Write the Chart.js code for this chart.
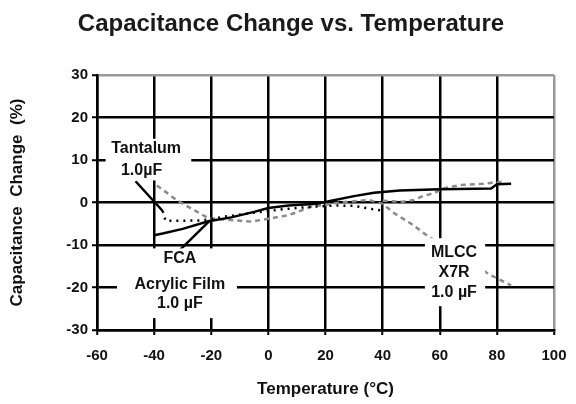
<!DOCTYPE html>
<html>
<head>
<meta charset="utf-8">
<script src="https://cdn.jsdelivr.net/npm/chart.js@4.4.1/dist/chart.umd.min.js"></script>
<style>
  html, body { margin: 0; padding: 0; background: #fff; }
  #wrap { width: 576px; height: 404px; }
</style>
</head>
<body>
<div id="wrap"><canvas id="c" width="576" height="404"></canvas></div>
<script>
// ---- data ----
const chartTitle = 'Capacitance Change vs. Temperature';
const xTicks = [-60, -40, -20, 0, 20, 40, 60, 80, 100];
const yTicks = [-30, -20, -10, 0, 10, 20, 30];

const fcaTemp  = [-40, -37, -30, -21, -13, -5, 0, 7, 17, 22, 30, 37, 46, 60, 78, 80, 85];
const fcaValue = [-7.7, -7.3, -6.2, -4.4, -3.5, -2.2, -1.3, -0.7, -0.3, 0.4, 1.5, 2.3, 2.8, 3.1, 3.3, 4.3, 4.4];

const tantTemp  = [-37, -36, -30, -23, -15, -5, 5, 15, 24, 30, 35, 40];
const tantValue = [-2, -4.3, -4.3, -4.2, -3.3, -2.4, -1.6, -1.0, -0.7, -0.8, -1.4, -1.9];

const mlccTemp  = [-39, -32, -27, -21, -6, 7, 15, 25, 35, 40, 44, 50, 56, 77.6, 85];
const mlccValue = [4, 0.5, -1.4, -3.7, -4.5, -3, -1, 0, 0.6, -0.3, -2.5, -5, -8, -17, -19.5];

const mlcc2Temp  = [40, 47, 51, 54, 58, 61, 67, 75, 83];
const mlcc2Value = [0.4, 0.2, 0.6, 1.5, 2.2, 3.3, 4.1, 4.4, 4.9];

// leader lines from labels to curves
const tantLeaderTemp  = [-46.5, -37];
const tantLeaderValue = [5, -2];
const fcaLeaderTemp   = [-31, -20.7];
const fcaLeaderValue  = [-11.2, -4.4];

const labels = [
  { lines: ["Tantalum", "1.0µF"], box: [-57, -27, 15, 5.2], tx: [-42.8, -44.4], ty: [12.6, 7.4] },
  { lines: ["FCA", "Acrylic Film", "1.0 µF"], box: [-53, -11, -10.8, -27.2], tx: [-31, -31, -31], ty: [-13.1, -19.2, -23.7] },
  { lines: ["MLCC", "X7R", "1.0 µF"], box: [54.8, 75.9, -8.4, -24.4], tx: [65, 65, 65], ty: [-11.9, -16.6, -21.3] }
];

function pts(xs, ys) { return xs.map((x, i) => ({ x: x, y: ys[i] })); }

const FONT = '"Liberation Sans", Arial, sans-serif';

const labelPlugin = {
  id: 'labelBoxes',
  afterDatasetsDraw(chart) {
    const ctx = chart.ctx;
    const xs = chart.scales.x, ys = chart.scales.y;
    ctx.save();
    labels.forEach(l => {
      const x0 = xs.getPixelForValue(l.box[0]), x1 = xs.getPixelForValue(l.box[1]);
      const y0 = ys.getPixelForValue(l.box[2]), y1 = ys.getPixelForValue(l.box[3]);
      ctx.fillStyle = '#fff';
      ctx.fillRect(x0, y0, x1 - x0, y1 - y0);
      ctx.fillStyle = '#111';
      ctx.font = 'bold 16px ' + FONT;
      ctx.textAlign = 'center';
      ctx.textBaseline = 'middle';
      l.lines.forEach((t, i) => {
        ctx.fillText(t, xs.getPixelForValue(l.tx[i]), ys.getPixelForValue(l.ty[i]));
      });
    });
    ctx.restore();
  }
};

const titlePlugin = {
  id: 'topTitle',
  afterDraw(chart) {
    const ctx = chart.ctx;
    ctx.save();
    ctx.fillStyle = '#1a1a1a';
    ctx.font = 'bold 24px ' + FONT;
    ctx.textAlign = 'center';
    ctx.textBaseline = 'middle';
    ctx.fillText(chartTitle, 291, 24);
    ctx.restore();
  }
};

new Chart(document.getElementById('c'), {
  type: 'scatter',
  data: {
    datasets: [
      { label: 'FCA Acrylic Film 1.0 µF', data: pts(fcaTemp, fcaValue), showLine: true,
        borderColor: '#000', borderWidth: 2.5, pointRadius: 0 },
      { label: 'Tantalum 1.0µF', data: pts(tantTemp, tantValue), showLine: true,
        borderColor: '#000', borderWidth: 2.5, borderDash: [2, 5], pointRadius: 0 },
      { label: 'MLCC X7R 1.0 µF', data: pts(mlccTemp, mlccValue), showLine: true,
        borderColor: '#8a8a8a', borderWidth: 2.5, borderDash: [5, 4], pointRadius: 0 },
      { label: 'MLCC X7R (upper)', data: pts(mlcc2Temp, mlcc2Value), showLine: true,
        borderColor: '#8a8a8a', borderWidth: 2.5, borderDash: [5, 4], pointRadius: 0 },
      { label: 'leader1', data: pts(tantLeaderTemp, tantLeaderValue), showLine: true,
        borderColor: '#000', borderWidth: 2.5, pointRadius: 0 },
      { label: 'leader2', data: pts(fcaLeaderTemp, fcaLeaderValue), showLine: true,
        borderColor: '#000', borderWidth: 2.5, pointRadius: 0 }
    ]
  },
  options: {
    responsive: false,
    animation: false,
    events: [],
    layout: { padding: { left: 0, right: 22, top: 75, bottom: 0 } },
    plugins: {
      legend: { display: false },
      tooltip: { enabled: false },
      title: { display: false }
    },
    scales: {
      x: {
        type: 'linear',
        min: -60, max: 100,
        afterBuildTicks: (s) => { s.ticks = xTicks.map(v => ({ value: v })); },
        afterFit: (s) => { s.height = 74; s.paddingLeft = 14; s.paddingRight = 14; },
        ticks: { color: '#111', font: { family: FONT, size: 15, weight: 'bold' }, padding: 12 },
        grid: {
          color: (c) => (c.tick && c.tick.value === 100) ? '#999' : '#000',
          lineWidth: 2.5, tickLength: 5, tickColor: '#000', tickWidth: 2
        },
        border: { display: true, color: '#000', width: 2.5 },
        title: { display: true, text: 'Temperature (°C)', color: '#111',
          font: { family: FONT, size: 17, weight: 'bold' }, padding: { top: 0, bottom: 4 } }
      },
      y: {
        type: 'linear',
        min: -30, max: 30,
        afterBuildTicks: (s) => { s.ticks = yTicks.map(v => ({ value: v })); },
        afterFit: (s) => { s.width = 97; },
        ticks: { color: '#111', font: { family: FONT, size: 15, weight: 'bold' }, padding: 4 },
        grid: {
          color: (c) => (c.tick && c.tick.value === 30) ? '#999' : '#000',
          lineWidth: 2.5, tickLength: 5, tickColor: '#000', tickWidth: 2
        },
        border: { display: true, color: '#000', width: 2.5 },
        title: { display: true, text: 'Capacitance  Change  (%)', color: '#111',
          font: { family: FONT, size: 17, weight: 'bold' }, padding: { top: 7, bottom: 0 } }
      }
    }
  },
  plugins: [labelPlugin, titlePlugin]
});
</script>
</body>
</html>
